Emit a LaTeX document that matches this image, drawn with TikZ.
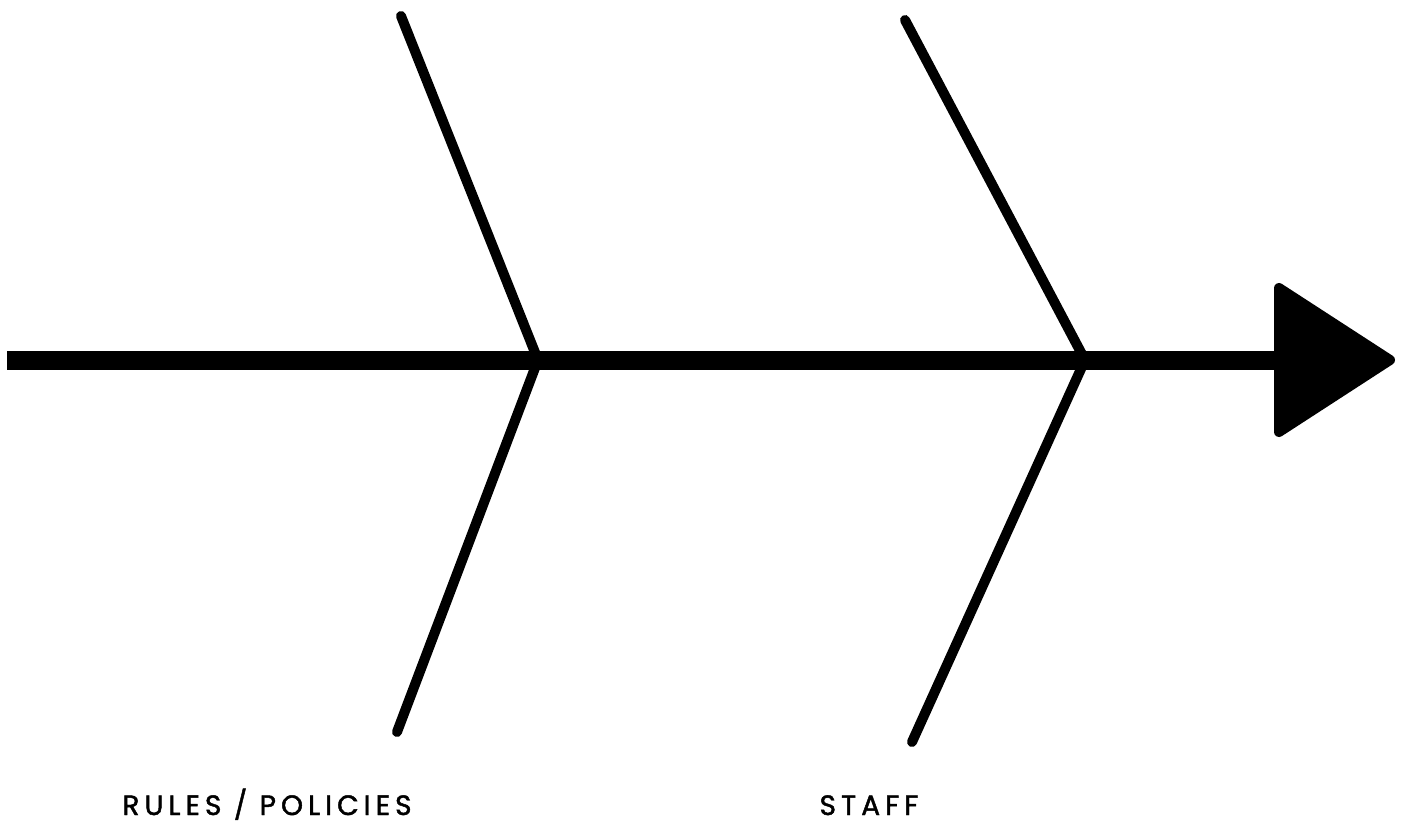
\documentclass[tikz,border=0pt]{standalone}
\usepackage{fontspec}
\usepackage{tikz}
\usetikzlibrary{positioning,calc}
\newfontfamily\causefont{Poppins}[LetterSpace=18, FakeBold=1.6]

\begin{document}
\begin{tikzpicture}[
  x=1pt, y=-1pt,
  spine/.style={line width=19pt},
  bone/.style={line width=10pt, line cap=round},
  head/.style={fill, line width=10pt, line join=round},
  cause/.style={font=\causefont\fontsize{28}{32}\selectfont, anchor=base, inner sep=0pt}
]
\useasboundingbox (0,0) rectangle (1401,823);

% spine
\coordinate (tail) at (7,360);
\coordinate (neck) at (1278,360);
\coordinate (j1) at (538,360);
\coordinate (j2) at (1085,360);
\draw[spine] (tail) -- (neck);

% head
\coordinate (htop) at (1279,288);
\coordinate (hbot) at (1279,432);
\coordinate (htip) at (1390,360);
\draw[head] (htop) -- (htip) -- (hbot) -- cycle;

% bones
\coordinate (b1a) at (401,16);
\coordinate (b1b) at (397,732);
\coordinate (b2a) at (905,20);
\coordinate (b2b) at (912,742);
\draw[bone] (b1a) -- (j1) -- (b1b);
\draw[bone] (b2a) -- (j2) -- (b2b);

% labels
\node[cause] (rules) at (267,815) {RULES / POLICIES};
\node[cause] (staff) at (869,815) {STAFF};
\end{tikzpicture}
\end{document}
